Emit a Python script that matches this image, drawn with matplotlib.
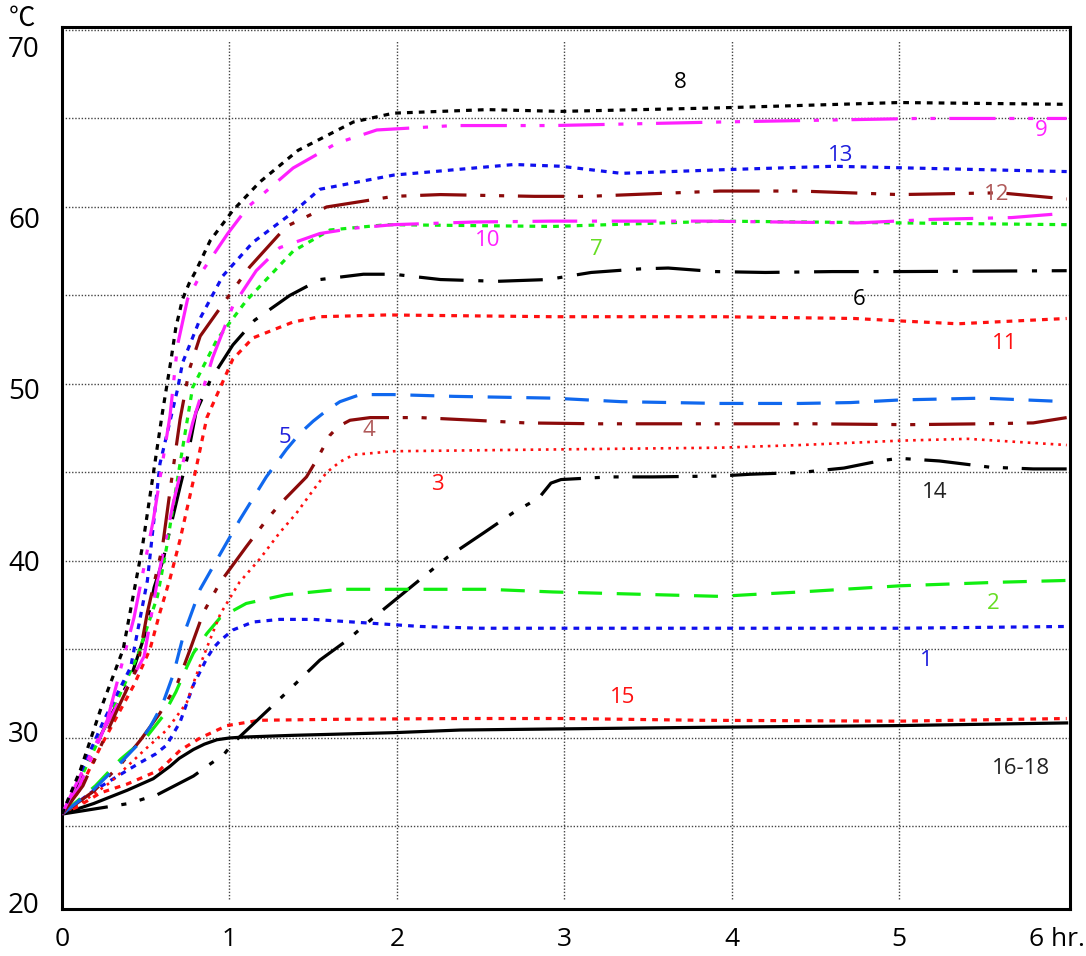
import matplotlib.pyplot as plt

plt.rcParams['font.family'] = ['Open Sans', 'Noto Sans CJK KR', 'DejaVu Sans']

# heating curves: time (hr) and temperature (°C)
t1 = [0, 0.17, 0.29, 0.465, 0.56, 0.625, 0.705, 0.785, 0.865, 0.905, 0.945, 1.02, 1.14, 1.3, 1.5, 1.74, 2.14, 2.5, 3.5, 4.5, 5.0, 6.0]
c1 = [25.7, 26.9, 27.6, 28.6, 29.1, 29.6, 30.9, 33.0, 34.5, 35.1, 35.5, 36.1, 36.55, 36.7, 36.7, 36.55, 36.3, 36.2, 36.2, 36.2, 36.2, 36.3]

t2 = [0, 0.2, 0.35, 0.5, 0.6, 0.68, 0.745, 0.785, 0.865, 0.945, 1.1, 1.34, 1.66, 1.94, 2.54, 2.93, 3.53, 3.93, 4.11, 4.41, 5.01, 5.6, 6.0]
c2 = [25.7, 27.3, 28.8, 30.0, 31.2, 32.6, 34.0, 34.8, 35.9, 36.8, 37.6, 38.1, 38.4, 38.4, 38.4, 38.25, 38.1, 38.0, 38.1, 38.25, 38.6, 38.8, 38.9]

t3 = [0, 0.11, 0.29, 0.49, 0.625, 0.745, 0.8, 0.865, 0.945, 1.06, 1.18, 1.3, 1.4, 1.5, 1.58, 1.66, 1.74, 1.98, 2.93, 3.93, 4.41, 5.01, 5.41, 6.0]
c3 = [25.7, 26.3, 27.5, 29.3, 30.45, 32.0, 33.5, 35.1, 37.0, 38.8, 40.1, 41.6, 42.7, 44.0, 45.0, 45.6, 46.0, 46.2, 46.3, 46.4, 46.55, 46.8, 46.9, 46.55]

t4 = [0, 0.19, 0.35, 0.47, 0.585, 0.69, 0.765, 0.845, 0.945, 1.1, 1.22, 1.3, 1.46, 1.52, 1.6, 1.65, 1.72, 1.84, 2.14, 2.42, 2.77, 3.2, 3.93, 4.49, 5.05, 5.5, 5.8, 6.0]
c4 = [25.7, 27.0, 28.5, 29.9, 31.4, 33.1, 35.0, 37.1, 38.8, 40.8, 42.3, 43.2, 44.75, 45.7, 47.1, 47.6, 47.95, 48.1, 48.1, 47.97, 47.8, 47.75, 47.75, 47.75, 47.7, 47.75, 47.8, 48.1]

t5 = [0, 0.19, 0.35, 0.45, 0.525, 0.6, 0.665, 0.725, 0.825, 0.945, 1.06, 1.22, 1.34, 1.42, 1.5, 1.58, 1.66, 1.78, 1.98, 2.34, 2.93, 3.34, 3.93, 4.41, 4.71, 5.01, 5.5, 6.0]
c5 = [25.7, 27.1, 28.6, 29.6, 30.6, 31.9, 33.6, 35.8, 38.4, 40.4, 42.3, 44.75, 46.3, 47.2, 47.9, 48.5, 49.0, 49.4, 49.4, 49.3, 49.2, 49.0, 48.9, 48.9, 48.95, 49.1, 49.2, 49.0]

t6 = [0, 0.1, 0.25, 0.41, 0.49, 0.55, 0.605, 0.645, 0.705, 0.75, 0.8, 0.885, 1.02, 1.15, 1.36, 1.54, 1.8, 1.98, 2.26, 2.6, 2.9, 3.16, 3.45, 3.62, 3.9, 4.2, 4.6, 5.0, 6.0]
c6 = [25.7, 27.5, 30.5, 33.4, 35.7, 38.5, 40.1, 41.8, 44.2, 45.9, 48.4, 50.2, 52.2, 53.6, 55.0, 55.9, 56.2, 56.2, 55.9, 55.8, 55.9, 56.3, 56.5, 56.55, 56.35, 56.3, 56.35, 56.35, 56.4]

t7 = [0, 0.1, 0.25, 0.45, 0.57, 0.625, 0.705, 0.78, 0.925, 1.1, 1.38, 1.6, 1.94, 2.93, 3.93, 5.0, 6.0]
c7 = [25.7, 27.5, 30.5, 34.6, 38.0, 40.8, 45.5, 49.8, 52.5, 54.7, 57.5, 58.7, 59.0, 58.9, 59.2, 59.1, 59.0]

t8 = [0, 0.11, 0.23, 0.365, 0.48, 0.6, 0.65, 0.68, 0.72, 0.76, 0.8, 0.885, 1.02, 1.18, 1.41, 1.74, 1.98, 2.54, 2.98, 3.93, 5.0, 6.0]
c8 = [25.7, 28.2, 31.6, 35.0, 40.8, 48.4, 51.3, 53.2, 54.8, 55.7, 56.4, 58.1, 59.8, 61.4, 63.2, 64.8, 65.3, 65.5, 65.4, 65.6, 65.9, 65.8]

t9 = [0, 0.09, 0.27, 0.43, 0.545, 0.645, 0.69, 0.75, 0.84, 0.99, 1.11, 1.38, 1.64, 1.88, 2.34, 2.93, 3.93, 5.11, 6.0]
c9 = [25.7, 27.5, 31.0, 36.8, 42.3, 48.2, 52.2, 54.8, 56.4, 58.5, 60.0, 62.2, 63.6, 64.35, 64.6, 64.6, 64.8, 65.0, 65.0]

t10 = [0, 0.1, 0.25, 0.49, 0.57, 0.665, 0.78, 0.9, 1.02, 1.16, 1.3, 1.54, 1.74, 1.98, 2.46, 2.92, 3.38, 3.83, 4.29, 4.75, 5.2, 5.67, 6.0]
c10 = [25.7, 27.2, 30.5, 34.6, 38.9, 43.3, 47.8, 51.5, 54.4, 56.4, 57.7, 58.5, 58.8, 59.0, 59.15, 59.2, 59.2, 59.2, 59.15, 59.1, 59.3, 59.4, 59.65]

t11 = [0, 0.1, 0.23, 0.43, 0.525, 0.585, 0.645, 0.705, 0.8, 0.865, 0.945, 1.02, 1.14, 1.38, 1.54, 1.94, 2.93, 3.93, 4.73, 5.03, 5.35, 5.67, 6.0]
c11 = [25.7, 27.0, 29.5, 33.0, 35.0, 37.1, 39.0, 41.2, 45.2, 48.1, 49.8, 51.4, 52.6, 53.5, 53.8, 53.9, 53.8, 53.8, 53.7, 53.55, 53.4, 53.55, 53.7]

t12 = [0, 0.125, 0.33, 0.45, 0.51, 0.6, 0.65, 0.705, 0.76, 0.825, 0.99, 1.12, 1.34, 1.58, 1.98, 2.26, 2.82, 3.14, 3.93, 4.41, 5.0, 5.6, 6.0]
c12 = [25.7, 27.3, 31.6, 34.0, 37.1, 40.8, 44.3, 48.0, 50.8, 52.7, 54.9, 56.6, 58.9, 60.0, 60.6, 60.7, 60.6, 60.6, 60.9, 60.9, 60.7, 60.8, 60.45]

t13 = [0, 0.1, 0.25, 0.41, 0.51, 0.585, 0.69, 0.72, 0.83, 0.96, 1.14, 1.38, 1.54, 1.98, 2.7, 2.98, 3.34, 3.93, 4.61, 6.0]
c13 = [25.7, 27.8, 31.0, 34.0, 38.9, 45.5, 49.7, 51.2, 53.8, 56.1, 58.0, 59.7, 61.0, 61.8, 62.4, 62.3, 61.9, 62.1, 62.3, 62.0]

t14 = [0, 0.2, 0.4, 0.57, 0.785, 0.865, 0.965, 1.02, 1.3, 1.54, 1.7, 1.86, 2.08, 2.3, 2.52, 2.69, 2.8, 2.86, 2.92, 2.98, 3.27, 3.53, 3.93, 4.11, 4.41, 4.67, 4.88, 5.0, 5.24, 5.54, 5.8, 6.0]
c14 = [25.7, 26.0, 26.3, 26.8, 27.85, 28.4, 29.05, 29.7, 32.2, 34.4, 35.5, 36.8, 38.5, 40.2, 41.6, 42.7, 43.3, 43.7, 44.4, 44.6, 44.75, 44.75, 44.8, 44.9, 45.0, 45.25, 45.65, 45.8, 45.65, 45.3, 45.2, 45.2]

t15 = [0, 0.09, 0.23, 0.39, 0.585, 0.705, 0.825, 0.985, 1.18, 1.58, 2.38, 3.0, 3.81, 5.0, 6.0]
c15 = [25.7, 26.1, 26.9, 27.4, 28.2, 29.3, 30.0, 30.7, 31.0, 31.05, 31.1, 31.1, 31.0, 30.95, 31.1]

t16 = [0, 0.19, 0.39, 0.545, 0.645, 0.7, 0.785, 0.85, 0.925, 1.0, 1.08, 1.38, 1.98, 2.38, 3.81, 5.0, 6.0]
c16 = [25.7, 26.3, 27.05, 27.7, 28.4, 28.85, 29.35, 29.65, 29.9, 30.0, 30.05, 30.15, 30.3, 30.45, 30.6, 30.7, 30.85]

x_ticks = [0, 1, 2, 3, 4, 5, 6]
x_labels = ['0', '1', '2', '3', '4', '5', '6 hr.']
y_ticks = [20, 30, 40, 50, 60, 70]

# line styles
dot = (0, (1.8, 1.9))
fine = (0, (1.0, 1.9))
dash = (0, (7.5, 4.6))
dashdot = (0, (14, 4.6, 1.6, 4.6))
dashdotdot = (0, (14.5, 4.3, 1.6, 4.3, 1.6, 4.3))

fig = plt.figure(figsize=(10.86, 9.56), dpi=100)
ax = fig.add_axes([0.0571, 0.0492, 0.9282, 0.9226])

# grid: horizontal every 5 degrees, vertical every hour (shorter than the frame)
for v in range(25, 71, 5):
    ax.axhline(v, color='#444444', lw=1.0, ls=(0, (1, 1.3)), zorder=1)
ax.vlines([1, 2, 3, 4, 5], 20.9, 69.4, color='#444444', lw=1.0, ls=(0, (1, 1.3)), zorder=1)

lw = 2.3
curves = [
    (t16, c16, 'black', '-', lw),
    (t15, c15, '#ff1010', dot, lw),
    (t14, c14, 'black', dashdotdot, lw),
    (t1, c1, '#1010ee', dot, lw),
    (t2, c2, '#10ee10', dash, lw),
    (t3, c3, '#ff1010', fine, 1.9),
    (t4, c4, '#8b0a0a', dashdotdot, lw),
    (t5, c5, '#1068ee', dash, lw),
    (t11, c11, '#ff1010', dot, lw),
    (t6, c6, 'black', dashdot, lw),
    (t7, c7, '#10ee10', dot, lw),
    (t10, c10, '#ff20ff', dashdot, lw),
    (t12, c12, '#8b0a0a', dashdotdot, lw),
    (t13, c13, '#1010ee', dot, lw),
    (t9, c9, '#ff20ff', dashdotdot, lw),
    (t8, c8, 'black', dot, lw),
]
for t, c, col, ls, w in curves:
    ax.plot(t, c, color=col, ls=ls, lw=w, dash_capstyle='butt', zorder=3)

labels = [
    ('8', 3.69, 67.06, 'black'),
    ('9', 5.85, 64.3, '#ff20ff'),
    ('13', 4.65, 62.9, '#2020dd'),
    ('12', 5.58, 60.7, '#b05a5a'),
    ('10', 2.54, 58.1, '#ff20ff'),
    ('7', 3.19, 57.6, '#66dd22'),
    ('6', 4.76, 54.75, 'black'),
    ('11', 5.63, 52.3, '#ff1010'),
    ('5', 1.33, 47.0, '#2020dd'),
    ('4', 1.835, 47.35, '#b05a5a'),
    ('3', 2.24, 44.3, '#ff1010'),
    ('14', 5.21, 43.85, '#222222'),
    ('2', 5.56, 37.6, '#66dd22'),
    ('1', 5.16, 34.4, '#2020dd'),
    ('15', 3.35, 32.3, '#ff1010'),
    ('16-18', 5.73, 28.3, '#222222'),
]
for txt, x, y, col in labels:
    ax.text(x, y, txt, color=col, fontsize=16, ha='center', va='center', zorder=4)

ax.set_xlim(0, 6.02)
ax.set_ylim(20.34, 70.17)

ax.set_xticks(x_ticks[:-1] + [5.94])
ax.set_xticklabels(x_labels, fontsize=19)
# y labels sit slightly off the grid lines in the original
ax.set_yticks([20.68 + (v - 20) * 0.968 for v in y_ticks])
ax.set_yticklabels([str(v) for v in y_ticks], fontsize=20)
ax.tick_params(axis='x', length=0, pad=13)
ax.tick_params(axis='y', length=0, pad=16)

for s in ax.spines.values():
    s.set_linewidth(2.2)
    s.set_color('black')

fig.text(22 / 1086, 1 - 19 / 956, '℃', fontsize=19, ha='center', va='center')

fig.savefig('out.png', dpi=100)
